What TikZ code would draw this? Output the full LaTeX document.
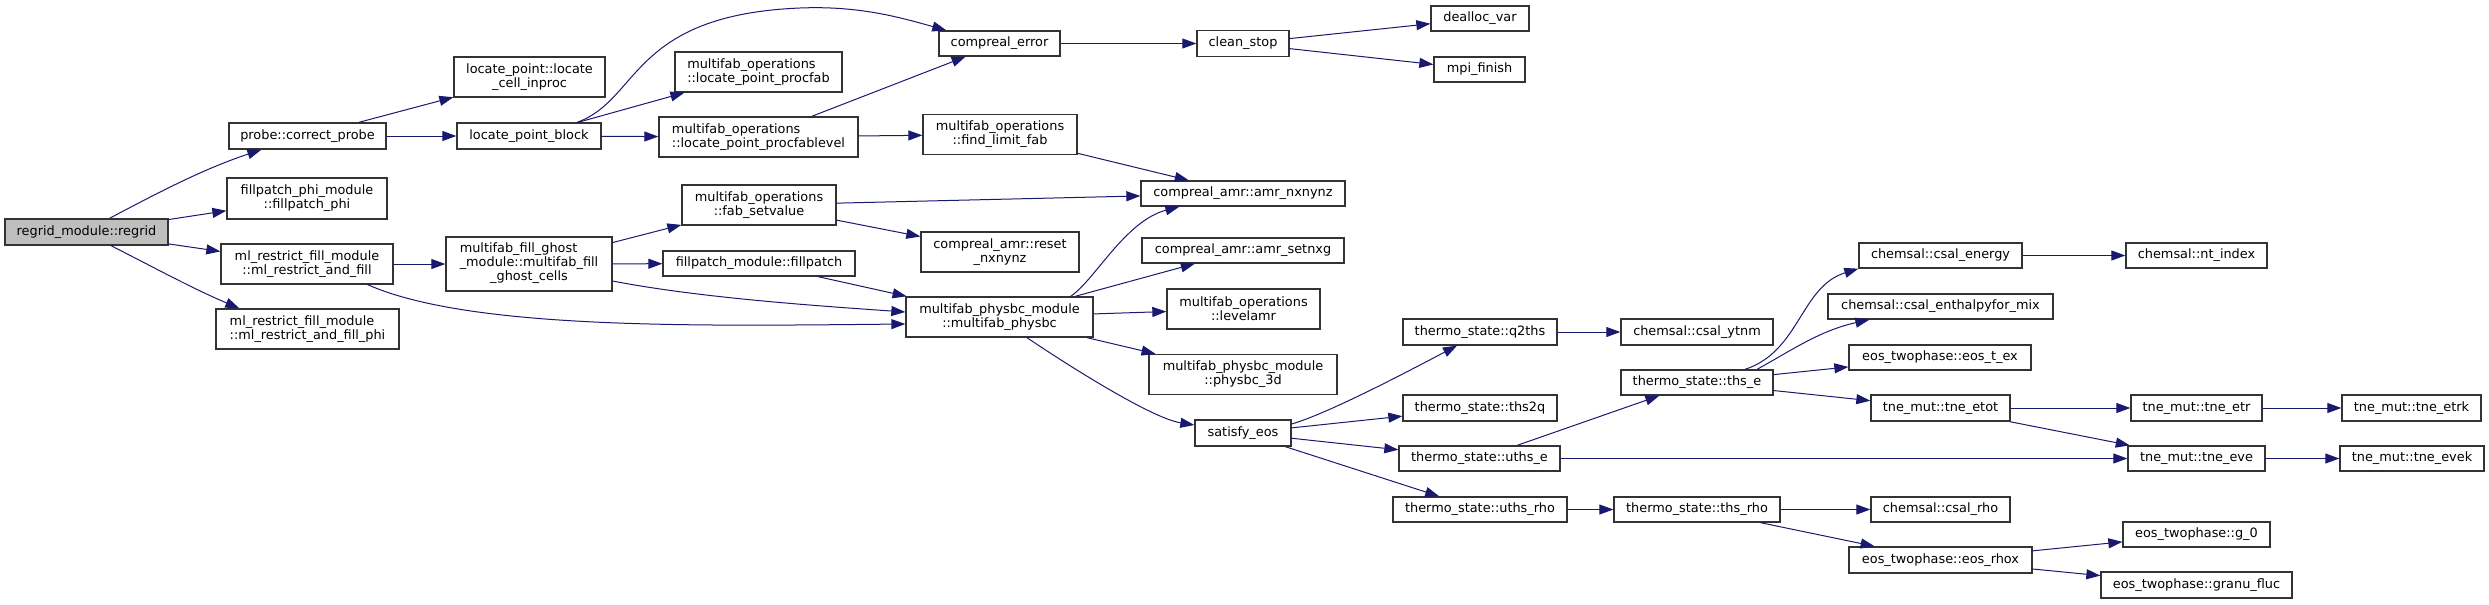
\documentclass[tikz,border=0pt]{standalone}
\usepackage{fontspec}
\setmainfont{DejaVu Sans}
\usepackage{xcolor}
\usetikzlibrary{arrows.meta}
\definecolor{edgeblue}{HTML}{191970}
\definecolor{rootgray}{HTML}{BFBFBF}
\definecolor{boxline}{HTML}{333333}

\begin{document}
\begin{tikzpicture}[x=0.75pt,y=-0.75pt,
  every node/.style={font=\fontsize{9.65}{10.6}\selectfont},
  fn/.style={draw=boxline, line width=1pt, fill=white, inner sep=0pt, align=center},
  wh/.style 2 args={minimum width=#1*0.75pt, minimum height=#2*0.75pt},
  call/.style={edgeblue, line width=0.75pt, -{Triangle[length=10.5pt,width=7.5pt]}}]
\useasboundingbox (0,0) rectangle (2489,604);
\node[fn, wh={163}{26}, fill=rootgray] (regrid) at (86.5,232) {regrid\_module::regrid};
\node[fn, wh={157}{26}] (probe) at (307.5,136) {probe::correct\_probe};
\node[fn, wh={160}{41}] (phi) at (307,198.5) {fillpatch\_phi\_module\\::fillpatch\_phi};
\node[fn, wh={172}{40}] (mlfill) at (307,264) {ml\_restrict\_fill\_module\\::ml\_restrict\_and\_fill};
\node[fn, wh={183}{40}, align=left] (mlphi) at (307.5,329) {ml\_restrict\_fill\_module\\::ml\_restrict\_and\_fill\_phi};
\node[fn, wh={151}{40}] (inproc) at (529.5,77) {locate\_point::locate\\\_cell\_inproc};
\node[fn, wh={144}{26}] (ptblock) at (529,136) {locate\_point\_block};
\node[fn, wh={166}{54}] (ghost) at (529,264) {\begin{tabular}{@{}l@{}}multifab\_fill\_ghost\\\_module::multifab\_fill\\\multicolumn{1}{@{}c@{}}{\_ghost\_cells}\end{tabular}};
\node[fn, wh={167}{40}, align=left] (procfab) at (758.5,72) {multifab\_operations\\::locate\_point\_procfab};
\node[fn, wh={199}{40}, align=left] (proclev) at (758.5,137) {multifab\_operations\\::locate\_point\_procfablevel};
\node[fn, wh={154}{40}] (setval) at (759,205) {multifab\_operations\\::fab\_setvalue};
\node[fn, wh={192}{25}] (fillpatch) at (759,263.5) {fillpatch\_module::fillpatch};
\node[fn, wh={121}{25}] (cerr) at (999.5,43.5) {compreal\_error};
\node[fn, wh={154}{40}] (findlim) at (1000,134.5) {multifab\_operations\\::find\_limit\_fab};
\node[fn, wh={158}{40}] (reset) at (1000,252) {compreal\_amr::reset\\\_nxnynz};
\node[fn, wh={187}{40}] (physbc) at (999.5,317) {multifab\_physbc\_module\\::multifab\_physbc};
\node[fn, wh={92}{26}] (cstop) at (1243,43.5) {clean\_stop};
\node[fn, wh={204}{25}] (nxnynz) at (1243,193.5) {compreal\_amr::amr\_nxnynz};
\node[fn, wh={202}{25}] (setnxg) at (1243,250.5) {compreal\_amr::amr\_setnxg};
\node[fn, wh={153}{40}] (levelamr) at (1243.5,309) {multifab\_operations\\::levelamr};
\node[fn, wh={188}{40}] (bc3d) at (1243,374.5) {multifab\_physbc\_module\\::physbc\_3d};
\node[fn, wh={96}{26}] (seos) at (1243,433) {satisfy\_eos};
\node[fn, wh={98}{25}] (dealloc) at (1480,18.5) {dealloc\_var};
\node[fn, wh={91}{25}] (mpifin) at (1479.5,69.5) {mpi\_finish};
\node[fn, wh={154}{26}] (q2ths) at (1480,332) {thermo\_state::q2ths};
\node[fn, wh={154}{26}] (ths2q) at (1480,408) {thermo\_state::ths2q};
\node[fn, wh={161}{25}] (uthse) at (1479.5,458.5) {thermo\_state::uths\_e};
\node[fn, wh={174}{25}] (uthsrho) at (1480,509.5) {thermo\_state::uths\_rho};
\node[fn, wh={152}{26}] (ytnm) at (1697,332) {chemsal::csal\_ytnm};
\node[fn, wh={152}{25}] (thse) at (1697,382.5) {thermo\_state::ths\_e};
\node[fn, wh={166}{25}] (thsrho) at (1697,509.5) {thermo\_state::ths\_rho};
\node[fn, wh={163}{25}] (energy) at (1940.5,255.5) {chemsal::csal\_energy};
\node[fn, wh={225}{25}] (enthalpy) at (1940.5,306.5) {chemsal::csal\_enthalpyfor\_mix};
\node[fn, wh={182}{25}] (tex) at (1940,357.5) {eos\_twophase::eos\_t\_ex};
\node[fn, wh={139}{26}] (etot) at (1940.5,408) {tne\_mut::tne\_etot};
\node[fn, wh={139}{25}] (csrho) at (1940.5,509.5) {chemsal::csal\_rho};
\node[fn, wh={183}{26}] (rhox) at (1940.5,560) {eos\_twophase::eos\_rhox};
\node[fn, wh={141}{25}] (ntidx) at (2196.5,255.5) {chemsal::nt\_index};
\node[fn, wh={131}{26}] (etr) at (2196.5,408) {tne\_mut::tne\_etr};
\node[fn, wh={137}{25}] (eve) at (2196.5,458.5) {tne\_mut::tne\_eve};
\node[fn, wh={147}{25}] (g0) at (2196.5,534.5) {eos\_twophase::g\_0};
\node[fn, wh={191}{26}] (granu) at (2196.5,585) {eos\_twophase::granu\_fluc};
\node[fn, wh={139}{26}] (etrk) at (2411.5,408) {tne\_mut::tne\_etrk};
\node[fn, wh={144}{25}] (evek) at (2412,458.5) {tne\_mut::tne\_evek};
% calls
\draw[call] ([xshift=17.25pt]regrid.north) .. controls +(53,-28) and +(-57,19) .. ([xshift=24.75pt]probe.south west);
\draw[call] (regrid) -- (phi);
\draw[call] (regrid) -- (mlfill);
\draw[call] ([xshift=18.4pt]regrid.south) .. controls +(49,25) and +(-46,-19.5) .. ([xshift=18pt]mlphi.north west);
\draw[call] (probe) -- (inproc);
\draw[call] (probe) -- (ptblock);
\draw[call] ([xshift=36pt]ptblock.north) .. controls (640,100) and (630,15) .. (800,8) .. controls (860,5.5) and (902,18) .. ([xshift=6pt]cerr.north west);
\draw[call] (ptblock) -- (procfab);
\draw[call] (ptblock) -- (proclev);
\draw[call] (proclev) -- (cerr);
\draw[call] (proclev) -- (findlim);
\draw[call] (findlim) -- (nxnynz);
\draw[call] (cerr) -- (cstop);
\draw[call] (cstop) -- (dealloc);
\draw[call] (cstop) -- (mpifin);
\draw[call] (mlfill) -- (ghost);
\draw[call] ([xshift=-19.5pt]mlfill.south east) .. controls (470,330) and (700,326) .. ([yshift=-5.25pt]physbc.west);
\draw[call] (ghost) -- (setval);
\draw[call] (ghost) -- (fillpatch);
\draw[call] ([yshift=-12.75pt]ghost.east) .. controls (700,298) and (820,306) .. ([yshift=3.75pt]physbc.west);
\draw[call] (fillpatch) -- (physbc);
\draw[call] (setval) -- (nxnynz);
\draw[call] (setval) -- (reset);
\draw[call] ([xshift=-17.25pt]physbc.north east) .. controls (1095,280) and (1125,221) .. ([xshift=29.25pt]nxnynz.south west);
\draw[call] (physbc) -- (setnxg);
\draw[call] (physbc) -- (levelamr);
\draw[call] (physbc) -- (bc3d);
\draw[call] ([xshift=20.6pt]physbc.south) .. controls (1060,360) and (1150,418) .. ([yshift=6pt]seos.west);
\draw[call] ([yshift=6.75pt]seos.east) .. controls (1330,413) and (1420,365) .. ([xshift=-17.25pt]q2ths.south);
\draw[call] (seos) -- (ths2q);
\draw[call] (seos) -- (uthse);
\draw[call] (seos) -- (uthsrho);
\draw[call] (q2ths) -- (ytnm);
\draw[call] (uthse) -- (thse);
\draw[call] (uthse) -- (eve);
\draw[call] (uthsrho) -- (thsrho);
\draw[call] ([xshift=36pt]thse.north) .. controls +(55,-18) and +(-58,18) .. (energy.south west);
\draw[call] ([xshift=45pt]thse.north) .. controls +(33,-18) and +(-50,11) .. ([xshift=31.5pt]enthalpy.south west);
\draw[call] (thse) -- (tex);
\draw[call] (thse) -- (etot);
\draw[call] (energy) -- (ntidx);
\draw[call] (etot) -- (etr);
\draw[call] (etot) -- (eve);
\draw[call] (etr) -- (etrk);
\draw[call] (eve) -- (evek);
\draw[call] (thsrho) -- (csrho);
\draw[call] (thsrho) -- (rhox);
\draw[call] (rhox) -- (g0);
\draw[call] (rhox) -- (granu);
\end{tikzpicture}
\end{document}
